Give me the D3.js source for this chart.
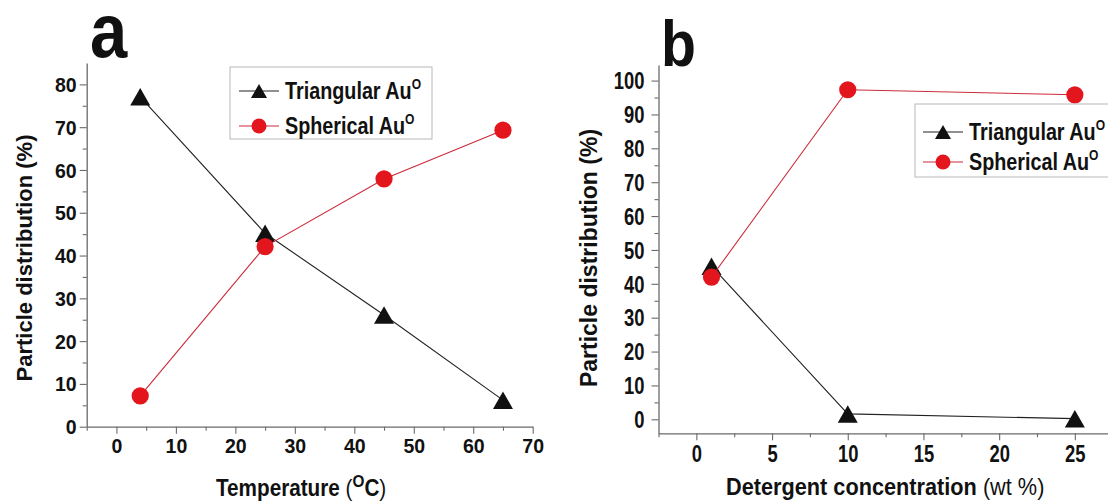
<!DOCTYPE html>
<html><head><meta charset="utf-8">
<script src="https://cdn.jsdelivr.net/npm/d3@7"></script>
<style>
html,body{margin:0;padding:0;background:#fff;overflow:hidden}
svg{display:block}
text{font-family:"Liberation Sans",Arial,sans-serif;fill:#111}
</style></head>
<body><svg id="c" width="1108" height="503"></svg>
<script>
// ---- data ----
const tempC = [4, 25, 45, 65];
const triangularA = [77.1, 45.2, 26.1, 6.2];
const sphericalA = [7.2, 42.1, 57.9, 69.3];
const detergent = [1, 10, 25];
const triangularB = [45.2, 1.6, 0.2];
const sphericalB = [42.0, 97.3, 95.8];
const xTicksA = [0, 10, 20, 30, 40, 50, 60, 70];
const yTicksA = [0, 10, 20, 30, 40, 50, 60, 70, 80];
const xTicksB = [0, 5, 10, 15, 20, 25];
const yTicksB = [0, 10, 20, 30, 40, 50, 60, 70, 80, 90, 100];
const seriesNames = ["Triangular Au", "Spherical Au"];

const RED = "#e3161e", REDLINE = "#cc2a3a", BLACK = "#111", AXIS = "#6a6a6a";
const svg = d3.select("#c");
const triPath = (w, h) => `M0,${-h/2}L${w/2},${h/2}L${-w/2},${h/2}Z`;

function scaledText(g, x, y, sx, size, weight, anchor, parts) {
  const t = g.append("text")
    .attr("transform", `translate(${x},${y}) scale(${sx},1)`)
    .attr("text-anchor", anchor).attr("font-size", size).attr("font-weight", weight);
  parts.forEach(p => {
    const ts = t.append("tspan").text(p.t);
    if (p.w) ts.attr("font-weight", p.w);
    if (p.s) ts.attr("font-size", p.s);
    if (p.dy) ts.attr("dy", p.dy);
  });
  return t;
}

function panel(cfg) {
  const g = svg.append("g");
  const x = d3.scaleLinear().domain(cfg.xDom).range(cfg.xRange);
  const y = d3.scaleLinear().domain(cfg.yDom).range(cfg.yRange);
  const y0 = cfg.yRange[0], x0 = cfg.xRange[0];

  // minor ticks
  const minorX = d3.range(cfg.xDom[0], cfg.xDom[1] + 1e-9, cfg.xMinor).filter(v => !cfg.xTicks.includes(v));
  const minorY = d3.range(0, cfg.yDom[1], cfg.yMinor).filter(v => !cfg.yTicks.includes(v));
  g.append("g").attr("transform", `translate(0,${y0})`)
    .call(d3.axisBottom(x).tickValues(minorX).tickSize(cfg.minor).tickFormat(""))
    .call(a => a.select(".domain").remove());
  g.append("g").attr("transform", `translate(${x0},0)`)
    .call(d3.axisLeft(y).tickValues(minorY).tickSize(cfg.minor).tickFormat(""))
    .call(a => a.select(".domain").remove());

  const ax = g.append("g").attr("transform", `translate(0,${y0})`)
    .call(d3.axisBottom(x).tickValues(cfg.xTicks).tickSize(cfg.tick).tickSizeOuter(0));
  ax.selectAll("text").attr("y", null).attr("dy", null)
    .attr("transform", `translate(0,${cfg.xLabOff}) scale(${cfg.labSx},1)`)
    .attr("font-size", cfg.labSize).attr("font-weight", "bold")
    .attr("font-family", '"Liberation Sans",Arial,sans-serif').attr("fill", "#111");
  const ay = g.append("g").attr("transform", `translate(${x0},0)`)
    .call(d3.axisLeft(y).tickValues(cfg.yTicks).tickSize(cfg.tick).tickSizeOuter(0));
  ay.selectAll("text").attr("x", null).attr("dy", "0.36em")
    .attr("transform", `translate(${-cfg.yLabOff},0) scale(${cfg.labSx},1)`)
    .attr("font-size", cfg.labSize).attr("font-weight", "bold")
    .attr("font-family", '"Liberation Sans",Arial,sans-serif').attr("fill", "#111");
  g.selectAll(".domain,.tick line").attr("stroke", AXIS).attr("stroke-width", 1.3);
  g.selectAll(".tick line").attr("stroke-width", 1.1);

  // data
  const triData = cfg.xs.map((v, i) => [v, cfg.tri[i]]);
  const sphData = cfg.xs.map((v, i) => [v, cfg.sph[i]]);
  const line = d3.line().x(d => x(d[0])).y(d => y(d[1]));
  g.append("path").datum(triData).attr("d", line).attr("fill", "none").attr("stroke", "#222").attr("stroke-width", 1.1);
  g.selectAll(".tri").data(triData).join("path").attr("d", triPath(20, 17.5))
    .attr("transform", d => `translate(${x(d[0])},${y(d[1])})`).attr("fill", BLACK);
  g.append("path").datum(sphData).attr("d", line).attr("fill", "none").attr("stroke", REDLINE).attr("stroke-width", 1.1);
  g.selectAll(".sph").data(sphData).join("circle")
    .attr("cx", d => x(d[0])).attr("cy", d => y(d[1])).attr("r", 8.6).attr("fill", RED);

  // panel letter
  scaledText(g, cfg.letter.x, cfg.letter.y, 0.88, cfg.letter.size, "bold", "start", [{t: cfg.letter.t}]);

  // axis titles
  g.append("text").attr("transform", `translate(${cfg.yTitle.x},${cfg.yTitle.y}) rotate(-90)`)
    .attr("text-anchor", "middle").attr("font-size", cfg.yTitle.size).attr("font-weight", "bold")
    .text("Particle distribution (%)");
  scaledText(g, cfg.xTitle.x, cfg.xTitle.y, cfg.xTitle.sx, 23, "bold", "start", cfg.xTitle.parts);

  // legend
  const L = cfg.legend;
  g.append("rect").attr("x", L.x).attr("y", L.y).attr("width", L.w).attr("height", L.h)
    .attr("fill", "#fff").attr("stroke", "#b8b8b8").attr("stroke-width", 1);
  [0, 1].forEach(i => {
    const ry = L.rows[i];
    g.append("line").attr("x1", L.lx1).attr("x2", L.lx2).attr("y1", ry).attr("y2", ry)
      .attr("stroke", i ? REDLINE : "#222").attr("stroke-width", 1.1);
    const mx = (L.lx1 + L.lx2) / 2;
    if (i === 0) g.append("path").attr("d", triPath(16, 14)).attr("transform", `translate(${mx},${ry})`).attr("fill", BLACK);
    else g.append("circle").attr("cx", mx).attr("cy", ry).attr("r", 7.5).attr("fill", RED);
    scaledText(g, L.tx, ry + 8.3, 0.86, 23, "bold", "start",
      [{t: seriesNames[i]}, {t: "O", s: 14, dy: -10}]);
  });
}

panel({
  xDom: [-5, 70], xRange: [86.7, 532.7], yDom: [0, 85], yRange: [426.7, 63],
  xTicks: xTicksA, yTicks: yTicksA, xMinor: 5, yMinor: 5, tick: 7, minor: 4,
  labSize: 19.5, labSx: 1, xLabOff: 26, yLabOff: 10,
  xs: tempC, tri: triangularA, sph: sphericalA,
  letter: {t: "a", x: 90, y: 57, size: 76},
  yTitle: {x: 32, y: 258, size: 22},
  xTitle: {x: 216, y: 496, sx: 0.9, parts: [
    {t: "Temperature "}, {t: "(", w: "normal"}, {t: "O", s: 17, dy: -9}, {t: "C", dy: 9}, {t: ")", w: "normal"}]},
  legend: {x: 230, y: 67, w: 202, h: 72, rows: [91, 126], lx1: 239, lx2: 279, tx: 285}
});

panel({
  xDom: [-2.5, 27.5], xRange: [658.5, 1112.7], yDom: [-4.13, 104.6], yRange: [433.3, 65],
  xTicks: xTicksB, yTicks: yTicksB, xMinor: 2.5, yMinor: 5, tick: 7, minor: 4,
  labSize: 23, labSx: 0.8, xLabOff: 28.4, yLabOff: 14,
  xs: detergent, tri: triangularB, sph: sphericalB,
  letter: {t: "b", x: 661, y: 66.4, size: 65},
  yTitle: {x: 597, y: 258, size: 23},
  xTitle: {x: 726, y: 495, sx: 0.944, parts: [
    {t: "Detergent concentration "}, {t: " (wt %)", w: "normal"}]},
  legend: {x: 915, y: 104, w: 200, h: 73, rows: [132, 162], lx1: 923, lx2: 963, tx: 969}
});
</script></body></html>
